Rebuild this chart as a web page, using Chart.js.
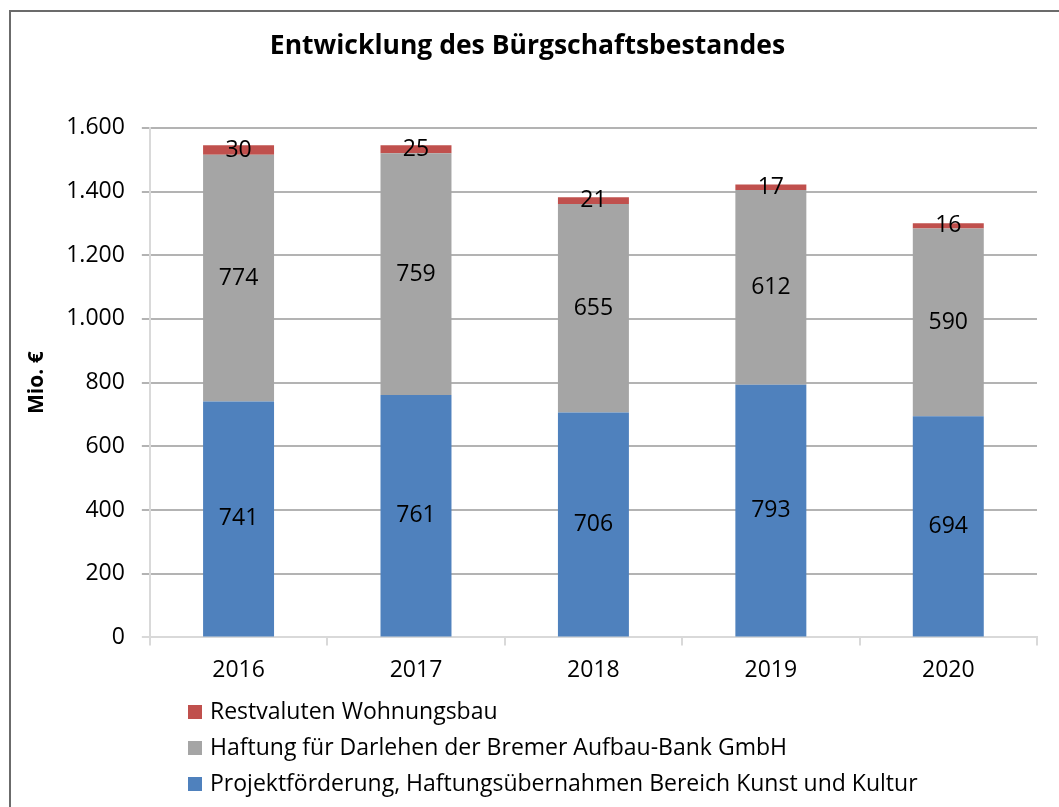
<!DOCTYPE html>
<html>
<head>
<meta charset="utf-8">
<script src="https://cdn.jsdelivr.net/npm/chart.js@4"></script>
<style>
  html, body { margin:0; padding:0; background:#fff; }
  #wrap { position:relative; width:1059px; height:807px; overflow:hidden; }
  #frame { position:absolute; left:9px; top:10px; width:1100px; height:900px; border-top:2px solid #6b6b6b; border-left:2px solid #6b6b6b; box-sizing:border-box; }
  canvas { position:absolute; left:0; top:0; }
  #legend { position:absolute; left:188px; top:692px; font-family:'Open Sans', sans-serif; font-size:23px; color:#000; }
  #legend .item { height:36px; line-height:36px; white-space:nowrap; }
  #legend .box { display:inline-block; width:14px; height:14px; margin-right:8px; vertical-align:middle; position:relative; top:-1px; }
</style>
</head>
<body>
<div id="wrap">
  <div id="frame"></div>
  <canvas id="c" width="1059" height="807"></canvas>
  <div id="legend"></div>
</div>
<script>
const categories = ['2016', '2017', '2018', '2019', '2020'];
const projektfoerderung = [741, 761, 706, 793, 694];
const haftungBAB = [774, 759, 655, 612, 590];
const restvaluten = [30, 25, 21, 17, 16];
const yTicks = [0, 200, 400, 600, 800, 1000, 1200, 1400, 1600];

const seriesNames = [
  'Projektförderung, Haftungsübernahmen Bereich Kunst und Kultur',
  'Haftung für Darlehen der Bremer Aufbau-Bank GmbH',
  'Restvaluten Wohnungsbau'
];
const colors = ['#4f81bd', '#a5a5a5', '#c0504d'];

const FONT = "'Open Sans'";

const labelPlugin = {
  id: 'segLabels',
  afterDatasetsDraw(chart) {
    const ctx = chart.ctx;
    ctx.save();
    ctx.font = '23px ' + FONT;
    ctx.fillStyle = '#000';
    ctx.textAlign = 'center';
    ctx.textBaseline = 'middle';
    chart.data.datasets.forEach((ds, i) => {
      const meta = chart.getDatasetMeta(i);
      meta.data.forEach((el, j) => {
        const p = el.getProps(['x', 'y', 'base'], true);
        ctx.fillText(String(ds.data[j]), p.x, (p.y + p.base) / 2);
      });
    });
    ctx.restore();
  }
};

const chart = new Chart(document.getElementById('c'), {
  type: 'bar',
  data: {
    labels: categories,
    datasets: [
      { label: seriesNames[0], data: projektfoerderung, backgroundColor: colors[0] },
      { label: seriesNames[1], data: haftungBAB, backgroundColor: colors[1] },
      { label: seriesNames[2], data: restvaluten, backgroundColor: colors[2] }
    ]
  },
  options: {
    responsive: false,
    animation: false,
    layout: { padding: { left: 18, top: 20, right: 22, bottom: 112 } },
    datasets: { bar: { categoryPercentage: 1.0, barPercentage: 0.4, borderWidth: 0 } },
    plugins: {
      legend: { display: false },
      tooltip: { enabled: false },
      title: {
        display: true,
        text: 'Entwicklung des Bürgschaftsbestandes',
        color: '#000',
        font: { family: FONT, size: 26.5, weight: 'bold' },
        padding: { top: 11, bottom: 65 }
      }
    },
    scales: {
      x: {
        stacked: true,
        grid: { display: true, drawOnChartArea: false, drawTicks: true, tickLength: 8, color: '#d9d9d9', lineWidth: 2, offset: true },
        border: { display: true, color: '#d9d9d9', width: 2 },
        ticks: { color: '#000', font: { family: FONT, size: 23 }, padding: 11 }
      },
      y: {
        stacked: true,
        min: 0,
        max: 1600,
        afterBuildTicks(scale) { scale.ticks = yTicks.map(v => ({ value: v })); },
        grid: {
          color: ctx => (ctx.tick && ctx.tick.value === 0) ? '#d9d9d9' : '#b3b3b3',
          lineWidth: 2, tickLength: 8
        },
        border: { display: true, color: '#d9d9d9', width: 2 },
        ticks: {
          color: '#000', font: { family: FONT, size: 23 }, padding: 17,
          callback: v => v.toLocaleString('de-DE')
        },
        title: {
          display: true, text: 'Mio. €', color: '#000',
          font: { family: FONT, size: 21, weight: 'bold' },
          padding: { top: 6, bottom: 0 }
        }
      }
    }
  },
  plugins: [labelPlugin]
});

// legend built from the chart's datasets (reverse order as in reference)
const lg = document.getElementById('legend');
chart.data.datasets.slice().reverse().forEach(ds => {
  const d = document.createElement('div');
  d.className = 'item';
  const b = document.createElement('span');
  b.className = 'box';
  b.style.background = ds.backgroundColor;
  d.appendChild(b);
  d.appendChild(document.createTextNode(ds.label));
  lg.appendChild(d);
});
</script>
</body>
</html>
